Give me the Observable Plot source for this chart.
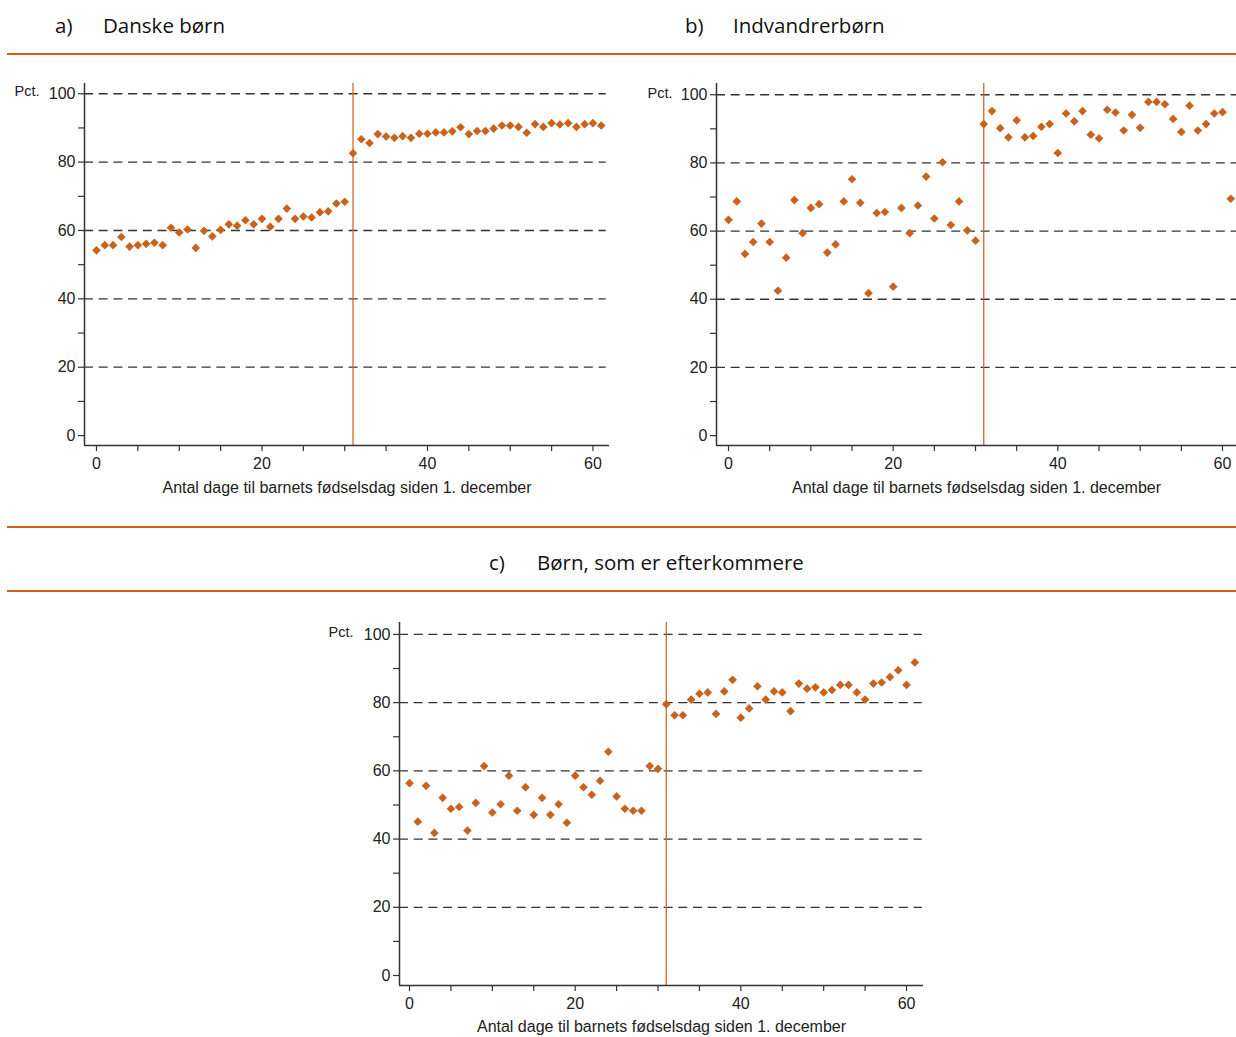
<!DOCTYPE html>
<html>
<head>
<meta charset="utf-8">
<script src="https://cdn.jsdelivr.net/npm/d3@7"></script>
<script src="https://cdn.jsdelivr.net/npm/@observablehq/plot@0.6"></script>
<style>
  html, body { margin: 0; padding: 0; background: #fff; }
  body { width: 1236px; height: 1037px; position: relative; overflow: hidden; }
  .title { position: absolute; font-family: "Open Sans", Lato, sans-serif; font-size: 20.5px; color: #111; line-height: 1; white-space: nowrap; }
  .rule { position: absolute; left: 7px; width: 1229px; height: 2px; background: #d4600e; }
  .chart { position: absolute; }
</style>
</head>
<body>
<div class="title" style="left:55px;top:15px">a)</div>
<div class="title" style="left:103px;top:15px">Danske børn</div>
<div class="title" style="left:685px;top:15px">b)</div>
<div class="title" style="left:733px;top:15px">Indvandrerbørn</div>
<div class="rule" style="top:53px"></div>
<div class="rule" style="top:526px"></div>
<div class="title" style="left:489px;top:552px">c)</div>
<div class="title" style="left:537px;top:552px">Børn, som er efterkommere</div>
<div class="rule" style="top:590px"></div>
<div id="ca" class="chart" style="left:0px;top:70px"></div>
<div id="cb" class="chart" style="left:630px;top:70px"></div>
<div id="cc" class="chart" style="left:310px;top:605px"></div>
<script>
// ---- data ----
const days = [0,1,2,3,4,5,6,7,8,9,10,11,12,13,14,15,16,17,18,19,20,21,22,23,24,25,26,27,28,29,30,
  31,32,33,34,35,36,37,38,39,40,41,42,43,44,45,46,47,48,49,50,51,52,53,54,55,56,57,58,59,60,61];
const danskeBoern = [54.2,55.7,55.7,58.1,55.3,55.7,56.1,56.4,55.7,60.8,59.4,60.3,54.9,59.9,58.3,60.2,61.8,61.4,63.0,61.8,
  63.4,61.1,63.4,66.4,63.4,64.1,63.8,65.3,65.6,67.9,68.4,
  82.6,86.7,85.6,88.2,87.5,87.1,87.6,87.1,88.3,88.3,88.7,88.7,89.0,90.2,88.2,89.1,89.1,89.8,90.7,90.7,
  90.3,88.6,91.1,90.3,91.4,91.0,91.4,90.3,91.1,91.4,90.7];
const indvandrerBoern = [63.3,68.7,53.3,56.8,62.2,56.8,42.5,52.2,69.1,59.4,66.8,67.9,53.7,56.1,68.7,75.2,68.3,41.8,65.3,65.6,
  43.7,66.8,59.4,67.5,76.0,63.7,80.2,61.8,68.7,60.2,57.2,
  91.4,95.2,90.2,87.5,92.5,87.5,87.9,90.6,91.4,82.9,94.5,92.2,95.2,88.3,87.2,95.6,94.8,89.5,94.1,90.3,
  97.9,97.9,97.2,92.9,89.1,96.8,89.5,91.4,94.5,94.9,69.5];
const efterkommere = [56.4,45.1,55.6,41.8,52.1,48.9,49.4,42.5,50.6,61.4,47.8,50.2,58.6,48.3,55.2,47.1,52.1,47.1,50.2,44.8,
  58.6,55.2,53.0,57.1,65.6,52.5,48.9,48.3,48.3,61.4,60.6,
  79.5,76.3,76.3,80.9,82.6,83.0,76.7,83.3,86.7,75.6,78.3,84.8,80.9,83.3,83.0,77.5,85.6,84.1,84.5,83.0,
  83.7,85.2,85.2,83.0,80.9,85.6,85.9,87.5,89.5,85.2,91.8];
const cutoffDay = [31];
const gridValues = [20, 40, 60, 80, 100];
const xTicks = [0,5,10,15,20,25,30,35,40,45,50,55,60];
const yTicks = [0,10,20,30,40,50,60,70,80,90,100];
const xLabel = "Antal dage til barnets fødselsdag siden 1. december";
const yLabel = "Pct.";

const ORANGE = "#c8621c";
const LINE = "#d2692a";
const FONT = "'Liberation Sans', Arial, sans-serif";

function makeChart(values, o) {
  const data = days.map((d, i) => ({day: d, pct: values[i]}));
  return Plot.plot({
    width: o.width, height: o.height,
    marginLeft: o.ml, marginRight: o.mr, marginTop: o.mt, marginBottom: o.mb,
    style: {fontFamily: FONT, fontSize: "16px", color: "#222", background: "#fff", overflow: "visible"},
    x: {domain: o.xd},
    y: {domain: o.yd},
    marks: [
      Plot.ruleY(gridValues, {x1: o.xd[0], x2: o.gridEnd, stroke: "#333", strokeWidth: 1.3, strokeDasharray: "9,5.7"}),
      Plot.ruleX(cutoffDay, {y1: o.yd[0], y2: o.yd[1], stroke: LINE, strokeWidth: 1.3}),
      Plot.axisX({ticks: xTicks, tickFormat: d => d % 20 === 0 ? String(d) : "", tickSize: 6, tickPadding: 6, fontSize: 16, label: null, stroke: "#333", strokeWidth: 1.2}),
      Plot.axisY({ticks: yTicks, tickFormat: d => d % 20 === 0 ? String(d) : "", tickSize: 6, tickPadding: 3, fontSize: 16, label: null, stroke: "#333", strokeWidth: 1.2}),
      Plot.ruleX([o.xd[0]], {stroke: "#333", strokeWidth: 1.5}),
      Plot.ruleY([o.yd[0]], {stroke: "#333", strokeWidth: 1.5}),
      Plot.dot(data, {x: "day", y: "pct", symbol: "diamond2", r: 3.9, fill: ORANGE, stroke: "none"}),
      Plot.text([xLabel], {frameAnchor: "bottom", dy: o.xlabelDy, fontSize: 16, fill: "#222"}),
      Plot.text([yLabel], {frameAnchor: "top-left", dx: o.pctDx, dy: o.pctDy, textAnchor: "start", fontSize: 14.5, fill: "#222"})
    ]
  });
}

document.getElementById("ca").append(makeChart(danskeBoern, {
  width: 620, height: 440, ml: 84, mr: 11, mt: 13, mb: 65,
  xd: [-1.45, 62.0], yd: [-2.9, 103], gridEnd: 61.6, xlabelDy: 47, pctDx: -70, pctDy: 2
}));
document.getElementById("cb").append(makeChart(indvandrerBoern, {
  width: 606, height: 440, ml: 86, mr: 0, mt: 13, mb: 65,
  xd: [-1.46, 61.7], yd: [-2.9, 103.3], gridEnd: 61.7, xlabelDy: 47, pctDx: -69, pctDy: 4
}));
document.getElementById("cc").append(makeChart(efterkommere, {
  width: 620, height: 432, ml: 89, mr: 7, mt: 17, mb: 52,
  xd: [-1.21, 62.05], yd: [-2.93, 103.5], gridEnd: 61.9, xlabelDy: 46, pctDx: -71, pctDy: 4
}));
</script>
</body>
</html>
